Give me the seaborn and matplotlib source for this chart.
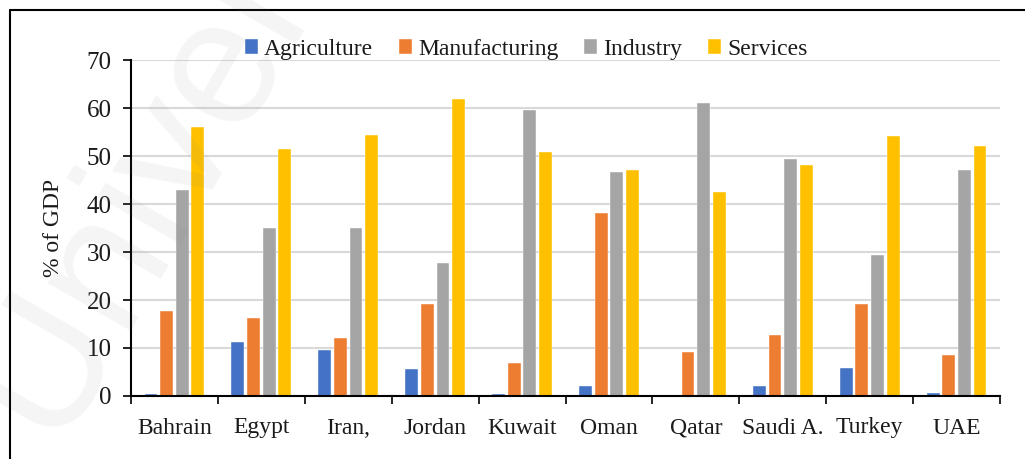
import numpy as np
import pandas as pd
import matplotlib
matplotlib.use("Agg")
import matplotlib.pyplot as plt
import seaborn as sns
from matplotlib.lines import Line2D
from matplotlib.ticker import FixedLocator

countries = ["Bahrain", "Egypt", "Iran,", "Jordan", "Kuwait", "Oman", "Qatar", "Saudi A.", "Turkey", "UAE"]
agriculture = [0.4, 11.2, 9.6, 5.6, 0.4, 2.1, 0.0, 2.1, 5.8, 0.7]
manufacturing = [17.7, 16.2, 12.1, 19.2, 6.9, 38.1, 9.2, 12.8, 19.1, 8.6]
industry = [42.9, 35.0, 35.0, 27.7, 59.6, 46.7, 61.0, 49.4, 29.4, 47.0]
services = [56.0, 51.5, 54.4, 61.9, 50.8, 47.1, 42.6, 48.2, 54.1, 52.1]
series_names = ["Agriculture", "Manufacturing", "Industry", "Services"]
colors = ["#4472C4", "#ED7D31", "#A5A5A5", "#FFC000"]

rows = []
for name, vals in zip(series_names, [agriculture, manufacturing, industry, services]):
    for c, v in zip(countries, vals):
        rows.append({"Country": c, "Sector": name, "Value": v})
df = pd.DataFrame(rows)

sns.set_theme(style="white")
plt.rcParams["font.family"] = ["Liberation Serif", "DejaVu Serif"]

fig = plt.figure(figsize=(10.25, 4.59), dpi=100)
ax = fig.add_axes([131/1025, 1 - 396/459, (1000-131)/1025, (396-60)/459])

sns.barplot(data=df, x="Country", y="Value", hue="Sector", palette=colors,
            width=0.72, gap=0.18, ax=ax, edgecolor="white", linewidth=0.3,
            saturation=1, legend=True)

ax.set_ylim(0, 70)
ax.set_xlim(-0.5, len(countries) - 0.5)
ax.set_yticks(range(0, 71, 10))
ax.yaxis.grid(True, color="#D9D9D9", linewidth=1.5)
ax.set_axisbelow(True)
for s in ["top", "right"]:
    ax.spines[s].set_visible(False)
for s in ["left", "bottom"]:
    ax.spines[s].set_color("black")
    ax.spines[s].set_linewidth(1.5)

ax.tick_params(axis="y", which="major", direction="out", length=6, width=1.2,
               color="black", labelsize=18, left=True, pad=8, labelcolor="#1a1a1a")
ax.tick_params(axis="x", which="major", length=0, labelsize=17, pad=27, labelcolor="#1a1a1a")
ax.xaxis.set_minor_locator(FixedLocator(np.arange(-0.5, len(countries), 1.0)))
ax.tick_params(axis="x", which="minor", direction="out", length=6, width=1.2,
               color="black", bottom=True)
ax.set_xlabel("")
ax.set_ylabel("% of GDP", fontsize=17, labelpad=16, color="#1a1a1a")

handles, labels = ax.get_legend_handles_labels()
leg = ax.legend(handles, labels, loc="lower center", bbox_to_anchor=(0.455, 0.972),
                ncol=4, frameon=False, fontsize=17, handlelength=0.55, handleheight=0.55,
                handletextpad=0.25, columnspacing=1.1, borderaxespad=0)
for t in leg.get_texts():
    t.set_color("#1a1a1a")

# figure border (top and left visible)
fig.add_artist(Line2D([10/1025, 1.0], [1 - 10/459, 1 - 10/459], transform=fig.transFigure,
                      color="black", linewidth=1.5))
fig.add_artist(Line2D([10/1025, 10/1025], [0, 1 - 10/459], transform=fig.transFigure,
                      color="black", linewidth=1.5))

# faint watermark
fig.text(0.14, 0.58, "Univer", fontsize=130, color="gray", alpha=0.08,
         rotation=60, ha="center", va="center", family=["Liberation Sans", "DejaVu Sans"])

fig.canvas.draw()
for tick in ax.xaxis.get_major_ticks():
    tick.label1.set_verticalalignment("baseline")

fig.savefig("out.png", dpi=100)
